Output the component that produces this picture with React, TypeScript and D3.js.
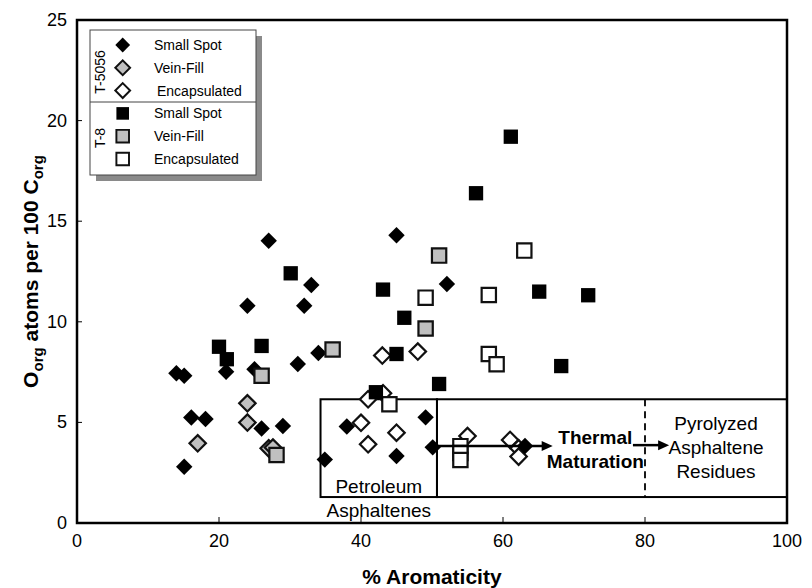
import React from "react";
import * as d3 from "d3";

const W = 812;
const H = 588;
const FONT = "'Liberation Sans', Arial, Helvetica, sans-serif";

// T-5056 sample (diamonds)
const t5056SmallSpot: [number, number][] = [
  [27, 14.03], [33, 11.83], [24, 10.8], [32, 10.8], [14, 7.44], [15.1, 7.32],
  [21, 7.52], [25, 7.64], [31.1, 7.9], [34, 8.45], [16.1, 5.24], [18.1, 5.17],
  [26, 4.7], [29, 4.82], [15.1, 2.8], [38, 4.8], [34.9, 3.15], [45, 14.3],
  [52.1, 11.88], [49.1, 5.25], [45, 3.33], [50.1, 3.76], [63.1, 3.83],
];
const t5056VeinFill: [number, number][] = [
  [24, 5.95], [24, 4.99], [17, 3.96], [27, 3.71], [27.6, 3.75],
];
const t5056Encapsulated: [number, number][] = [
  [40, 4.98], [43, 8.32], [48, 8.52], [43.1, 6.45], [41, 6.15], [45, 4.49],
  [41, 3.91], [55, 4.32], [61, 4.13], [62.2, 3.71], [62.2, 3.3],
];

// T-8 sample (squares)
const t8SmallSpot: [number, number][] = [
  [61.1, 19.2], [56.2, 16.39], [30.1, 12.41], [43.1, 11.6], [65.1, 11.5],
  [72, 11.32], [46.1, 10.2], [20, 8.76], [26, 8.8], [21.1, 8.14], [45, 8.4],
  [68.2, 7.8], [51, 6.91], [42.1, 6.5],
];
const t8VeinFill: [number, number][] = [
  [26, 7.32], [28.1, 3.38], [36, 8.62], [51, 13.29], [49.1, 9.67],
];
const t8Encapsulated: [number, number][] = [
  [63, 13.54], [49.1, 11.2], [58, 11.33], [58, 8.4], [59.1, 7.89], [44, 5.9],
  [54, 3.82], [54, 3.48], [54, 3.13],
];

const xTicks = [0, 20, 40, 60, 80, 100];
const yTicks = [0, 5, 10, 15, 20, 25];

const legendRows = [
  { group: "T-5056", shape: "diamond", fill: "#000", label: "Small Spot" },
  { group: "T-5056", shape: "diamond", fill: "#c0c0c0", label: "Vein-Fill" },
  { group: "T-5056", shape: "diamond", fill: "#fff", label: "Encapsulated" },
  { group: "T-8", shape: "square", fill: "#000", label: "Small Spot" },
  { group: "T-8", shape: "square", fill: "#c0c0c0", label: "Vein-Fill" },
  { group: "T-8", shape: "square", fill: "#fff", label: "Encapsulated" },
];

const x = d3.scaleLinear().domain([0, 100]).range([77, 787]);
const y = d3.scaleLinear().domain([0, 25]).range([523, 20]);

const diamondPath = d3.symbol(d3.symbolSquare, 135)() as string;
const squarePath = d3.symbol(d3.symbolSquare, 205)() as string;

function Marker({ shape, fill, cx, cy, scale = 1 }: { shape: string; fill: string; cx: number; cy: number; scale?: number }) {
  const isBlack = fill === "#000";
  return (
    <path
      d={shape === "diamond" ? diamondPath : squarePath}
      transform={`translate(${cx},${cy}) scale(${scale}) rotate(${shape === "diamond" ? 45 : 0})`}
      fill={fill}
      stroke={isBlack ? "none" : "#111"}
      strokeWidth={isBlack ? 0 : 2.2}
    />
  );
}

function Arrow({ x1, x2, yv }: { x1: number; x2: number; yv: number }) {
  const px1 = x(x1), px2 = x(x2), py = y(yv);
  return (
    <g>
      <line x1={px1} x2={px2 - 8} y1={py} y2={py} stroke="#000" strokeWidth={2.5} />
      <polygon points={`${px2},${py} ${px2 - 11},${py - 5} ${px2 - 11},${py + 5}`} fill="#000" />
    </g>
  );
}

export default function App() {
  const series = [
    { pts: t5056Encapsulated, shape: "diamond", fill: "#fff" },
    { pts: t5056VeinFill, shape: "diamond", fill: "#c0c0c0" },
    { pts: t5056SmallSpot, shape: "diamond", fill: "#000" },
    { pts: t8Encapsulated, shape: "square", fill: "#fff" },
    { pts: t8VeinFill, shape: "square", fill: "#c0c0c0" },
    { pts: t8SmallSpot, shape: "square", fill: "#000" },
  ];

  const boxTop = y(6.15);
  const boxBottom = y(1.29);
  const boxLeft = x(34.3);
  const boxMid = x(50.7);
  const boxRight = x(100);
  const thermalX = x(73);
  const pyroX = (x(80) + boxRight) / 2;

  return (
    <svg width={W} height={H} style={{ position: "absolute", left: 0, top: 0, background: "#fff" }} fontFamily={FONT}>
      <rect width={W} height={H} fill="#fff" />

      {/* annotation boxes */}
      <rect x={boxLeft} y={boxTop} width={boxMid - boxLeft} height={boxBottom - boxTop} fill="none" stroke="#000" strokeWidth={2} />
      <rect x={boxMid} y={boxTop} width={boxRight - boxMid} height={boxBottom - boxTop} fill="none" stroke="#000" strokeWidth={2} />
      <line x1={x(80)} x2={x(80)} y1={boxTop} y2={boxBottom} stroke="#000" strokeWidth={1.8} strokeDasharray="7,5" />

      {/* points */}
      {series.map((s, i) => (
        <g key={i}>
          {s.pts.map(([a, b], j) => (
            <Marker key={j} shape={s.shape} fill={s.fill} cx={x(a)} cy={y(b)} />
          ))}
        </g>
      ))}

      <Arrow x1={50.7} x2={67} yv={3.83} />
      <Arrow x1={78.3} x2={83.4} yv={3.87} />

      <text x={thermalX} y={444} textAnchor="middle" fontSize={19} fontWeight="bold">Thermal</text>
      <text x={thermalX} y={468} textAnchor="middle" fontSize={19} fontWeight="bold">Maturation</text>
      <text x={pyroX} y={430} textAnchor="middle" fontSize={19}>Pyrolyzed</text>
      <text x={pyroX} y={454} textAnchor="middle" fontSize={19}>Asphaltene</text>
      <text x={pyroX} y={478} textAnchor="middle" fontSize={19}>Residues</text>
      <text x={(boxLeft + boxMid) / 2} y={493} textAnchor="middle" fontSize={19}>Petroleum</text>
      <text x={(boxLeft + boxMid) / 2} y={517} textAnchor="middle" fontSize={19}>Asphaltenes</text>

      {/* frame and ticks */}
      <rect x={x(0)} y={y(25)} width={x(100) - x(0)} height={y(0) - y(25)} fill="none" stroke="#000" strokeWidth={2.5} />
      {xTicks.slice(1, -1).map((t) => (
        <line key={t} x1={x(t)} x2={x(t)} y1={y(0)} y2={y(0) - 6} stroke="#000" strokeWidth={1} />
      ))}
      {yTicks.slice(1, -1).map((t) => (
        <line key={t} x1={x(0)} x2={x(0) + 5} y1={y(t)} y2={y(t)} stroke="#000" strokeWidth={1} />
      ))}
      {xTicks.map((t) => (
        <text key={t} x={x(t)} y={547} textAnchor="middle" fontSize={18}>{t}</text>
      ))}
      {yTicks.map((t) => (
        <text key={t} x={67} y={y(t) + 6} textAnchor="end" fontSize={18}>{t}</text>
      ))}

      {/* axis titles */}
      <text x={(x(0) + x(100)) / 2} y={584} textAnchor="middle" fontSize={21} fontWeight="bold">% Aromaticity</text>
      <text transform={`translate(38,${(y(0) + y(25)) / 2}) rotate(-90)`} textAnchor="middle" fontSize={21} fontWeight="bold">
        O<tspan fontSize={15} dy={5}>org</tspan>
        <tspan dy={-5}> atoms per 100 C</tspan>
        <tspan fontSize={15} dy={5}>org</tspan>
      </text>

      {/* legend */}
      <g>
        <rect x={96} y={36} width={166} height={145} fill="#8a8a8a" />
        <rect x={90} y={30} width={166} height={145} fill="#fff" stroke="#444" strokeWidth={1} />
        <line x1={90} x2={256} y1={102} y2={102} stroke="#444" strokeWidth={1} />
        <text transform="translate(105,72) rotate(-90)" textAnchor="middle" fontSize={14}>T-5056</text>
        <text transform="translate(105,138) rotate(-90)" textAnchor="middle" fontSize={14}>T-8</text>
        {legendRows.map((r, i) => {
          const ry = 45 + i * 22.8;
          return (
            <g key={i}>
              <Marker shape={r.shape} fill={r.fill} cx={122.7} cy={ry} scale={r.shape === "square" ? 0.88 : 0.9} />
              <text x={r.label === "Encapsulated" && r.group === "T-5056" ? 157 : 154} y={ry + 5} fontSize={14}>{r.label}</text>
            </g>
          );
        })}
      </g>
    </svg>
  );
}
